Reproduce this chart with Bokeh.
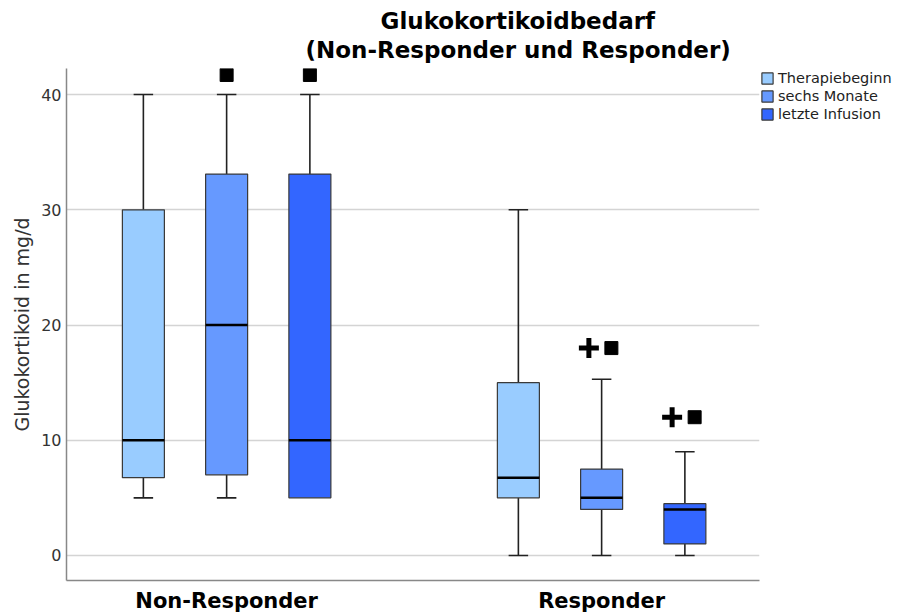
from bokeh.plotting import figure
from bokeh.models import Range1d, FixedTicker, Legend, LegendItem, Title, ColumnDataSource
from bokeh.embed import file_html
from bokeh.resources import INLINE

# ---- data ----
groups = ["Non-Responder", "Responder"]
series = ["Therapiebeginn", "sechs Monate", "letzte Infusion"]
colors = ["#99ccff", "#6699ff", "#3366ff"]
# indexed [series][group]
lower = [[5, 0], [5, 0], [5, 0]]
q1 = [[6.75, 5], [7, 4], [5, 1]]
median = [[10, 6.75], [20, 5], [10, 4]]
q3 = [[30, 15], [33.1, 7.5], [33.1, 4.5]]
upper = [[40, 30], [40, 15.3], [40, 9]]
# significance markers: (group index, series index, y)
square_marks = [(0, 1, 41.7), (0, 2, 41.7), (1, 1, 18.0), (1, 2, 12.0)]
plus_marks = [(1, 1, 18.0), (1, 2, 12.0)]
title_lines = ["Glukokortikoidbedarf", "(Non-Responder und Responder)"]
y_ticks = [0, 10, 20, 30, 40]

# ---- layout parameters ----
offsets = [-0.222, 0.0, 0.222]
box_w = 0.112
cap_w = 0.052
FONT = "DejaVu Sans"

p = figure(frame_width=693, frame_height=512, output_backend="svg", toolbar_location=None,
           x_range=Range1d(-0.427, 1.421), y_range=Range1d(-2.17, 42.26),
           min_border_left=0, min_border_right=0, min_border_top=0, min_border_bottom=0)
p.margin = (0, 0, 0, 8)
p.outline_line_color = None
p.background_fill_color = "white"

renderers = []
for s in range(3):
    xs = [g + offsets[s] for g in range(len(groups))]
    wx0, wy0, wx1, wy1 = [], [], [], []
    cx0, cy0, cx1, cy1 = [], [], [], []
    for g in range(len(groups)):
        x = xs[g]
        if upper[s][g] > q3[s][g]:
            wx0.append(x); wy0.append(q3[s][g]); wx1.append(x); wy1.append(upper[s][g])
            cx0.append(x - cap_w / 2); cy0.append(upper[s][g]); cx1.append(x + cap_w / 2); cy1.append(upper[s][g])
        if lower[s][g] < q1[s][g]:
            wx0.append(x); wy0.append(lower[s][g]); wx1.append(x); wy1.append(q1[s][g])
            cx0.append(x - cap_w / 2); cy0.append(lower[s][g]); cx1.append(x + cap_w / 2); cy1.append(lower[s][g])
    p.segment(wx0, wy0, wx1, wy1, line_color="#222222", line_width=1.6)
    p.segment(cx0, cy0, cx1, cy1, line_color="#222222", line_width=1.6)
    src = ColumnDataSource(dict(x=xs, top=q3[s], bottom=q1[s]))
    r = p.vbar(x="x", top="top", bottom="bottom", width=box_w, source=src,
               fill_color=colors[s], line_color="#3a3a3a", line_width=1.2)
    renderers.append(r)
    p.segment([x - box_w / 2 for x in xs], median[s], [x + box_w / 2 for x in xs], median[s],
              line_color="black", line_width=2.5)

# markers
sq_x = []
sq_y = []
for g, s, y in square_marks:
    has_plus = any(pg == g and ps == s for pg, ps, _ in plus_marks)
    sq_x.append(g + offsets[s] + (0.026 if has_plus else 0.0))
    sq_y.append(y)
p.scatter(sq_x, sq_y, marker="square", size=13, fill_color="black", line_color="black")
pl_x = [g + offsets[s] - 0.034 for g, s, _ in plus_marks]
pl_y = [y for _, _, y in plus_marks]
p.scatter(pl_x, pl_y, marker="cross", size=20, line_color="black", line_width=5)

# grid
p.xgrid.grid_line_color = None
p.ygrid.grid_line_color = "#d4d4d4"
p.ygrid.grid_line_width = 1.5
p.ygrid.ticker = FixedTicker(ticks=y_ticks)

# axes
p.yaxis.ticker = FixedTicker(ticks=y_ticks)
p.yaxis.axis_label = "Glukokortikoid in mg/d"
p.yaxis.axis_label_text_font = FONT
p.yaxis.axis_label_text_font_style = "normal"
p.yaxis.axis_label_text_font_size = "19px"
p.yaxis.axis_label_text_color = "#333333"
p.yaxis.axis_label_standoff = 5
p.yaxis.major_label_text_font = FONT
p.yaxis.major_label_text_font_size = "16px"
p.yaxis.major_label_text_color = "#333333"
p.yaxis.major_label_standoff = 5
p.yaxis.major_tick_line_color = None
p.yaxis.major_tick_out = 0
p.yaxis.major_tick_in = 0
p.yaxis.minor_tick_line_color = None
p.yaxis.axis_line_color = "#888888"
p.yaxis.axis_line_width = 1.5

p.xaxis.ticker = FixedTicker(ticks=list(range(len(groups))))
p.xaxis.major_label_overrides = {i: g for i, g in enumerate(groups)}
p.xaxis.major_label_text_font = FONT
p.xaxis.major_label_text_font_style = "bold"
p.xaxis.major_label_text_font_size = "21px"
p.xaxis.major_label_text_color = "black"
p.xaxis.major_label_standoff = 8
p.xaxis.major_tick_line_color = None
p.xaxis.major_tick_out = 0
p.xaxis.major_tick_in = 0
p.xaxis.minor_tick_line_color = None
p.xaxis.axis_line_color = "#888888"
p.xaxis.axis_line_width = 1.5

# legend
legend = Legend(items=[LegendItem(label=series[i], renderers=[renderers[i]]) for i in range(3)],
                location="top_left", orientation="vertical",
                label_text_font=FONT, label_text_font_size="14.5px", label_text_color="#222222",
                glyph_width=14, glyph_height=14, label_height=18, spacing=0,
                label_standoff=4, padding=0, margin=1,
                border_line_alpha=0, background_fill_alpha=0)
p.add_layout(legend, "right")

# title: two lines, second line closest to the plot
title_offsets = [314, 239]
title_standoffs = [-10, 12]
for line, off, so in reversed(list(zip(title_lines, title_offsets, title_standoffs))):
    p.add_layout(Title(text=line, align="left", offset=off, text_font=FONT,
                       text_font_style="bold", text_font_size="23px", text_color="black",
                       standoff=so), "above")
# small blank spacer above the title
p.add_layout(Title(text=" ", text_font_size="4px", standoff=3), "above")

open("out.html", "w").write(file_html(p, INLINE))
